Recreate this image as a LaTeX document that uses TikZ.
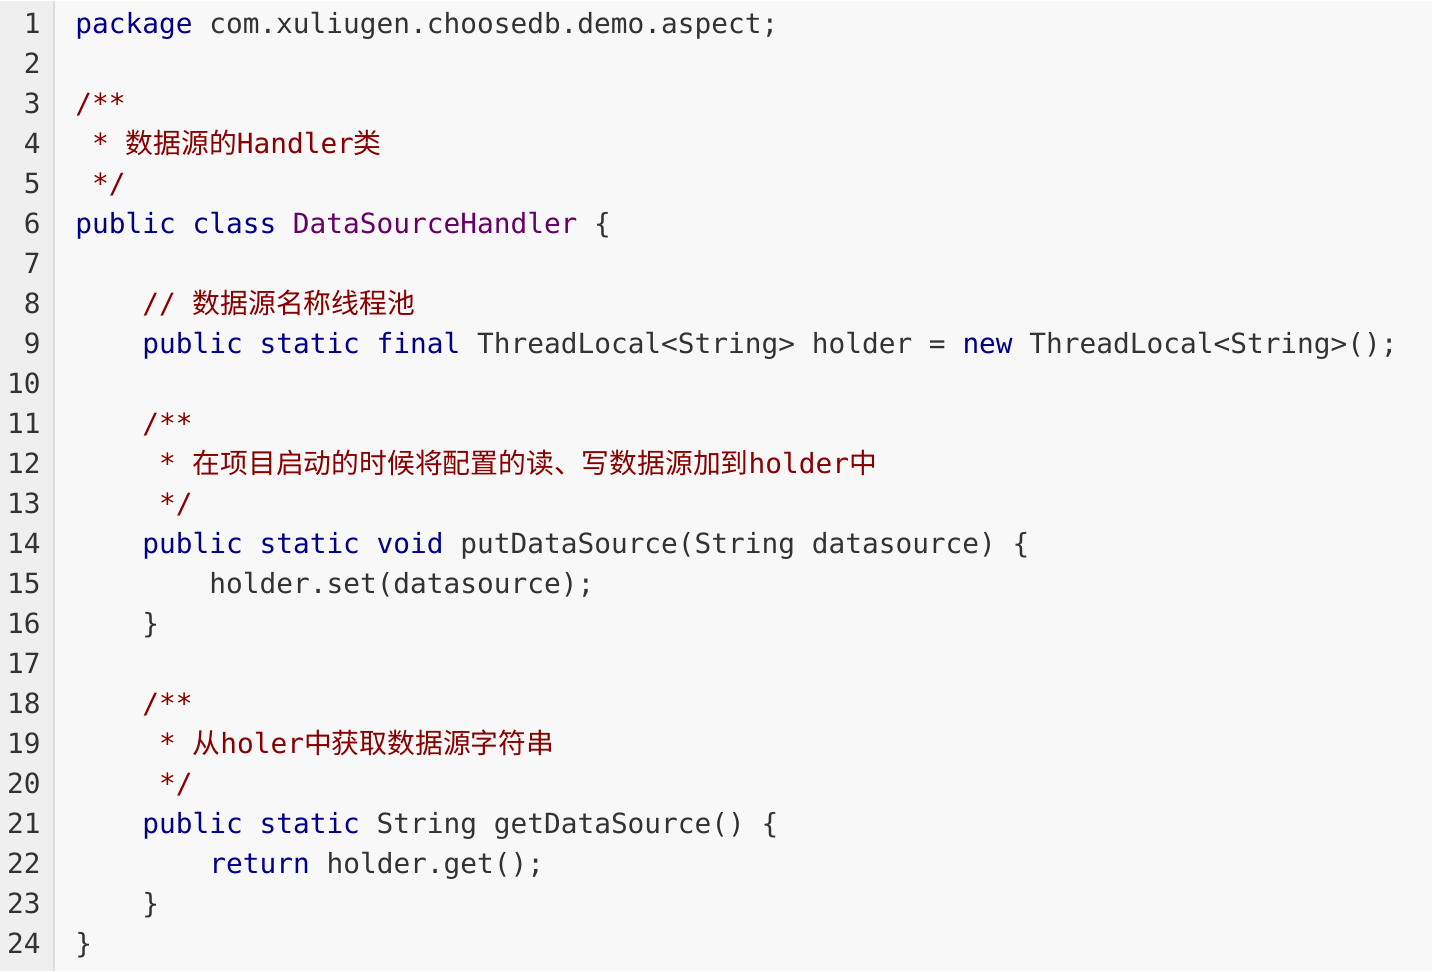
\documentclass[tikz,border=0pt]{standalone}
\usepackage{fontspec}
\setmonofont{DejaVu Sans Mono}
\newfontfamily\cjk{Noto Sans CJK SC}
\usepackage{xcolor}
\usetikzlibrary{positioning}
\definecolor{codebg}{HTML}{F8F8F8}
\definecolor{gutterbg}{HTML}{EFEFEF}
\definecolor{gutterline}{HTML}{DDDDDD}
\definecolor{plain}{HTML}{333333}
\definecolor{keyword}{HTML}{000088}
\definecolor{comment}{HTML}{880000}
\definecolor{typename}{HTML}{660066}
\newcommand{\kw}[1]{\textcolor{keyword}{#1}}
\newcommand{\cm}[1]{\textcolor{comment}{#1}}
\newcommand{\tn}[1]{\textcolor{typename}{#1}}
\newcommand{\zh}[1]{{\cjk #1}}

\begin{document}
\begin{tikzpicture}[x=0.5pt,y=-0.5pt,
codeline/.style={anchor=base west, inner sep=0pt, text=plain, font=\ttfamily\fontsize{13.9}{20}\selectfont},
linenum/.style={anchor=base east, inner sep=0pt, text=plain, font=\ttfamily\fontsize{13.9}{20}\selectfont},
]
%Background
\fill[codebg] (0,0) rectangle (1432,970);
\fill[gutterbg] (0,0) rectangle (54,970);
\draw[gutterline, line width=1pt] (54,0) -- (54,970);
%Line numbers
\foreach \n in {1,...,24}
  \node[linenum] (n\n) at (41,{33+40*(\n-1)}) {\n};
%Code
\node[codeline] (l1) at (75,33) {\kw{package} com.xuliugen.choosedb.demo.aspect;};
\node[codeline] (l3) at (75,113) {\cm{/**}};
\node[codeline] (l4) at (91.75,153) {\cm{* \zh{数据源的}Handler\zh{类}}};
\node[codeline] (l5) at (91.75,193) {\cm{*/}};
\node[codeline] (l6) at (75,233) {\kw{public} \kw{class} \tn{DataSourceHandler} \{};
\node[codeline] (l8) at (142,313) {\cm{// \zh{数据源名称线程池}}};
\node[codeline] (l9) at (142,353) {\kw{public} \kw{static} \kw{final} ThreadLocal<String> holder = \kw{new} ThreadLocal<String>();};
\node[codeline] (l11) at (142,433) {\cm{/**}};
\node[codeline] (l12) at (158.75,473) {\cm{* \zh{在项目启动的时候将配置的读、写数据源加到}holder\zh{中}}};
\node[codeline] (l13) at (158.75,513) {\cm{*/}};
\node[codeline] (l14) at (142,553) {\kw{public} \kw{static} \kw{void} putDataSource(String datasource) \{};
\node[codeline] (l15) at (209,593) {holder.set(datasource);};
\node[codeline] (l16) at (142,633) {\}};
\node[codeline] (l18) at (142,713) {\cm{/**}};
\node[codeline] (l19) at (158.75,753) {\cm{* \zh{从}holer\zh{中获取数据源字符串}}};
\node[codeline] (l20) at (158.75,793) {\cm{*/}};
\node[codeline] (l21) at (142,833) {\kw{public} \kw{static} String getDataSource() \{};
\node[codeline] (l22) at (209,873) {\kw{return} holder.get();};
\node[codeline] (l23) at (142,913) {\}};
\node[codeline] (l24) at (75,953) {\}};
\end{tikzpicture}
\end{document}
